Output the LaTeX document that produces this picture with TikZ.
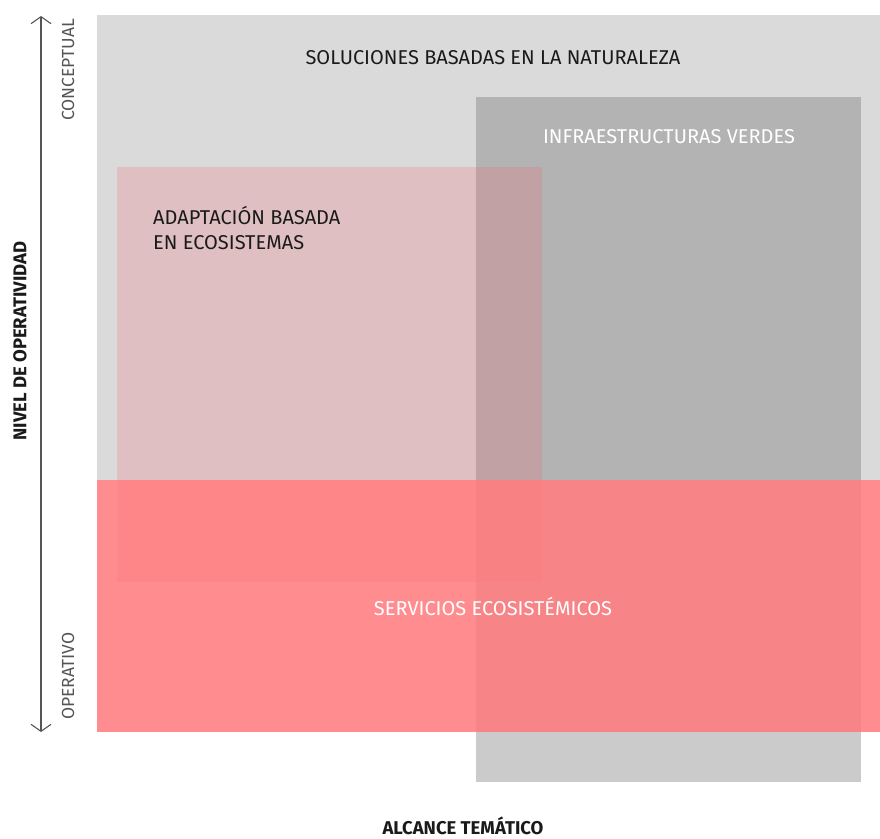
\documentclass[tikz,border=0pt]{standalone}
\usepackage{fontspec}
\setmainfont{Fira Sans}
\usetikzlibrary{arrows.meta}
\definecolor{outergray}{RGB}{218,218,218}
\definecolor{infragray}{RGB}{118,118,118}
\definecolor{pinkc}{RGB}{248,105,117}
\definecolor{redc}{RGB}{255,120,123}
\definecolor{txt}{RGB}{26,26,26}
\definecolor{axisc}{RGB}{85,85,85}
\tikzset{
  area/.style={draw=none},
  lbl/.style={font=\fontsize{20}{25}\selectfont, inner sep=0pt},
  lblw/.style={lbl, text=white},
  lbld/.style={lbl, text=txt},
  axtitle/.style={font=\fontsize{18.5}{22}\selectfont\bfseries, text=txt, inner sep=0pt},
  axend/.style={font=\fontsize{17.5}{20}\selectfont, text=axisc, inner sep=0pt, rotate=90},
}
\begin{document}
\begin{tikzpicture}[x=1pt,y=-1pt]
\useasboundingbox (0,0) rectangle (880,838);
% areas
\fill[outergray] (97,15) rectangle (880,480);
\fill[infragray, fill opacity=0.38] (476,97) rectangle (861,782);
\fill[pinkc, fill opacity=0.23] (117,167) rectangle (542,582);
\fill[redc, fill opacity=0.85] (97,480) rectangle (880,732);
% labels
\node[lbld] (sbn) at (493,58) {SOLUCIONES BASADAS EN LA NATURALEZA};
\node[lblw] (iv) at (669,137) {INFRAESTRUCTURAS VERDES};
\node[lbld, anchor=north west, align=left] (abe) at (153,206) {ADAPTACIÓN BASADA\\EN ECOSISTEMAS};
\node[lblw] (se) at (493,606) {SERVICIOS ECOSISTÉMICOS};
% axes
\coordinate (atop) at (41,16);
\coordinate (abot) at (41,732);
\draw[axisc, line width=1.1pt, {Straight Barb[length=7pt,width=20pt,line width=1.1pt]}-{Straight Barb[length=7pt,width=20pt,line width=1.1pt]}] (atop) -- (abot);
\node[axtitle, rotate=90] (ny) at (20,341) {NIVEL DE OPERATIVIDAD};
\node[axtitle, anchor=base] (nx) at (463,834) {ALCANCE TEMÁTICO};
\node[axend] (conc) at (68,70) {CONCEPTUAL};
\node[axend] (oper) at (68,676) {OPERATIVO};
\end{tikzpicture}
\end{document}
